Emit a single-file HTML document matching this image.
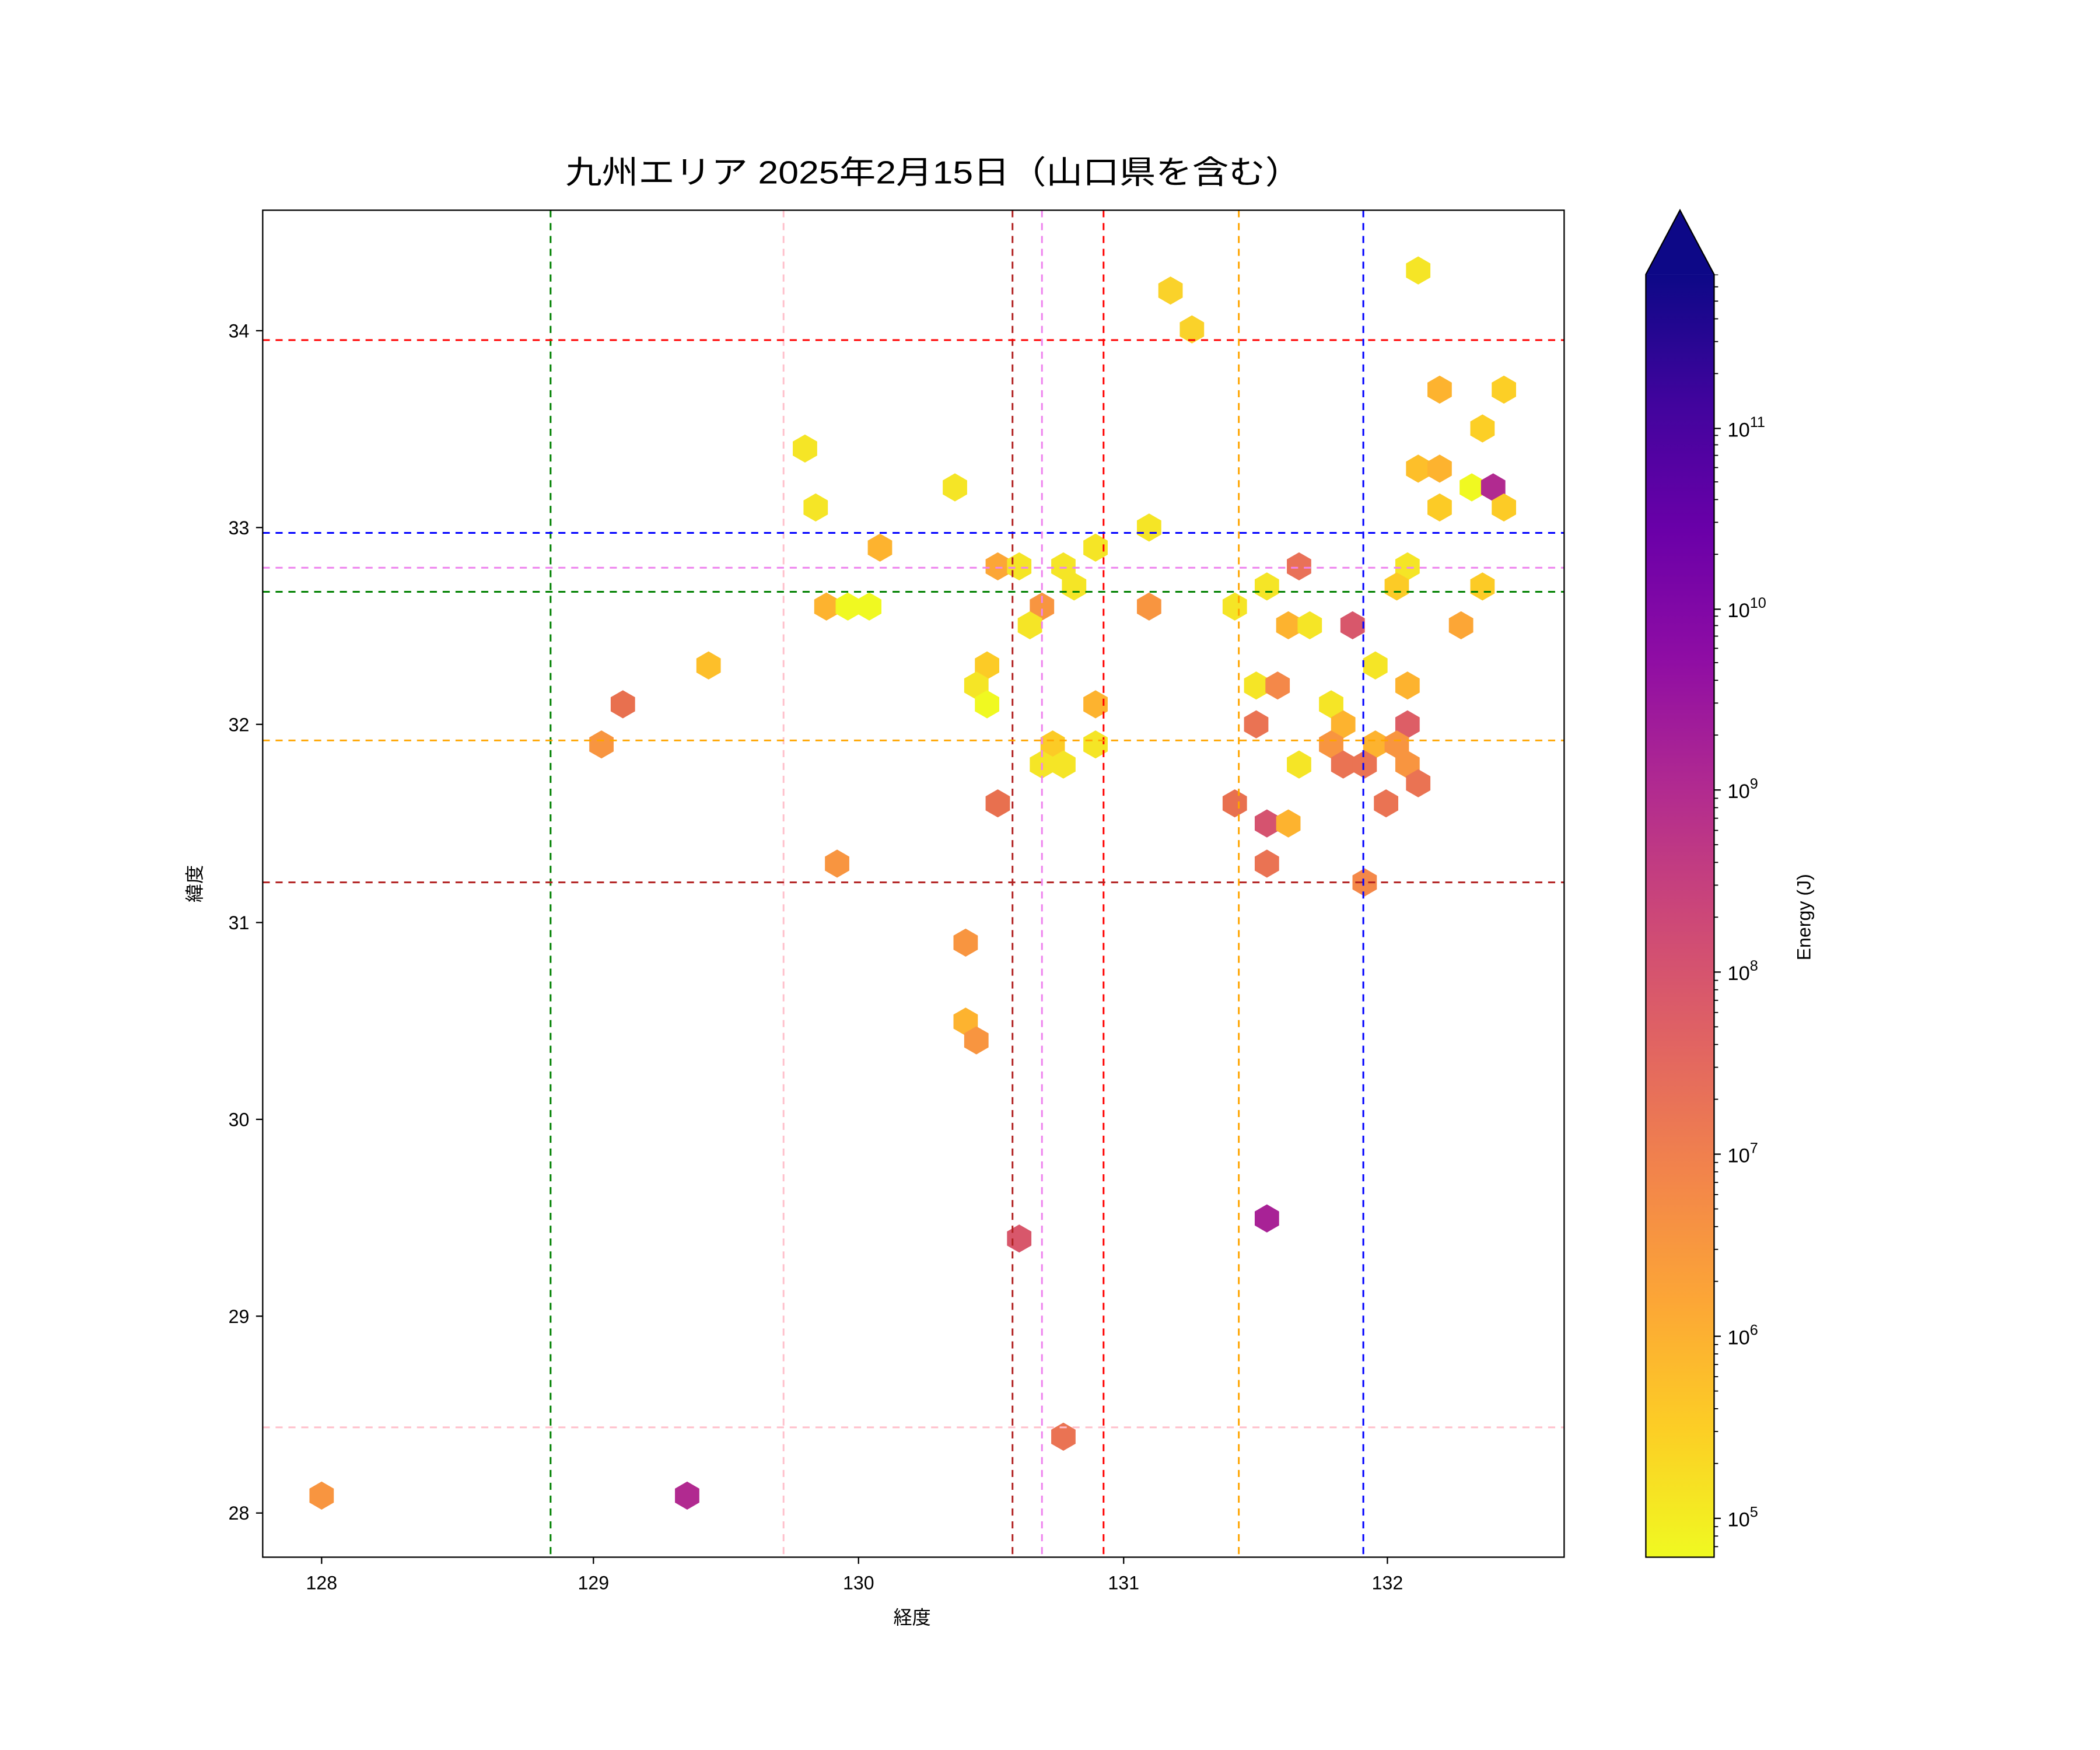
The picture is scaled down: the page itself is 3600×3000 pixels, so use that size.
<!DOCTYPE html>
<html><head><meta charset="utf-8"><style>
html,body{margin:0;padding:0;background:#fff}
svg{display:block}
text{font-family:"Liberation Sans","Noto Sans CJK JP",sans-serif;fill:#000}
</style></head><body>
<svg width="3600" height="3000" viewBox="0 0 1568 1307" xmlns="http://www.w3.org/2000/svg">
<defs>
<path id="h" d="M0,-10.5 L9.1,-5.25 L9.1,5.25 L0,10.5 L-9.1,5.25 L-9.1,-5.25 Z"/>
<linearGradient id="pl" x1="0" y1="0" x2="0" y2="1">
<stop offset="0" stop-color="#0d0887"/><stop offset="0.1" stop-color="#41049d"/><stop offset="0.2" stop-color="#6a00a8"/><stop offset="0.3" stop-color="#8f0da4"/><stop offset="0.4" stop-color="#b12a90"/><stop offset="0.5" stop-color="#cc4778"/><stop offset="0.6" stop-color="#e16462"/><stop offset="0.7" stop-color="#f2844b"/><stop offset="0.8" stop-color="#fca636"/><stop offset="0.9" stop-color="#fcce25"/><stop offset="1" stop-color="#f0f921"/>
</linearGradient>
<g id="mt" stroke="#000" stroke-width="0.8">
<line x1="1280" x2="1283" y1="-41" y2="-41"/><line x1="1280" x2="1283" y1="-64.9" y2="-64.9"/><line x1="1280" x2="1283" y1="-81.9" y2="-81.9"/><line x1="1280" x2="1283" y1="-95.1" y2="-95.1"/><line x1="1280" x2="1283" y1="-105.8" y2="-105.8"/><line x1="1280" x2="1283" y1="-114.9" y2="-114.9"/><line x1="1280" x2="1283" y1="-122.8" y2="-122.8"/><line x1="1280" x2="1283" y1="-129.8" y2="-129.8"/>
</g>
<clipPath id="cb"><rect x="1270" y="205" width="20" height="958"/></clipPath>
<clipPath id="ax"><rect x="196" y="157" width="972" height="1006"/></clipPath>
</defs>

<text x="697" y="137" font-size="24" text-anchor="middle" textLength="550" lengthAdjust="spacingAndGlyphs">九州エリア 2025年2月15日（山口県を含む）</text>

<g>
<use href="#h" x="1059" y="202" fill="#f5e526"/>
<use href="#h" x="874" y="217" fill="#fad22a"/>
<use href="#h" x="890" y="246" fill="#fad22a"/>
<use href="#h" x="1075" y="291" fill="#fdb32f"/>
<use href="#h" x="1123" y="291" fill="#fccf26"/>
<use href="#h" x="1107" y="320" fill="#fccf26"/>
<use href="#h" x="601" y="335" fill="#f5e526"/>
<use href="#h" x="713" y="364" fill="#f5e526"/>
<use href="#h" x="609" y="379" fill="#f5e526"/>
<use href="#h" x="1059" y="350" fill="#fdbf2a"/>
<use href="#h" x="1075" y="350" fill="#fdb32f"/>
<use href="#h" x="1099" y="364" fill="#f0f921"/>
<use href="#h" x="1115" y="364" fill="#b12a90"/>
<use href="#h" x="1075" y="379" fill="#fccb26"/>
<use href="#h" x="1123" y="379" fill="#fccb26"/>
<use href="#h" x="858" y="394" fill="#f5e526"/>
<use href="#h" x="657" y="409" fill="#fdb32f"/>
<use href="#h" x="818" y="409" fill="#f5e526"/>
<use href="#h" x="745" y="423" fill="#fca636"/>
<use href="#h" x="761" y="423" fill="#f5e526"/>
<use href="#h" x="794" y="423" fill="#f5e526"/>
<use href="#h" x="802" y="438" fill="#f5e526"/>
<use href="#h" x="1051" y="423" fill="#f5e526"/>
<use href="#h" x="970" y="423" fill="#e97158"/>
<use href="#h" x="617" y="453" fill="#fdb32f"/>
<use href="#h" x="633" y="453" fill="#f0f921"/>
<use href="#h" x="649" y="453" fill="#f0f921"/>
<use href="#h" x="858" y="453" fill="#f89540"/>
<use href="#h" x="922" y="453" fill="#f5e526"/>
<use href="#h" x="778" y="453" fill="#f89540"/>
<use href="#h" x="946" y="438" fill="#f5e526"/>
<use href="#h" x="1043" y="438" fill="#fccb26"/>
<use href="#h" x="1107" y="438" fill="#fccb26"/>
<use href="#h" x="769" y="467" fill="#f5e526"/>
<use href="#h" x="962" y="467" fill="#fdb32f"/>
<use href="#h" x="978" y="467" fill="#f5e526"/>
<use href="#h" x="1010" y="467" fill="#d8576b"/>
<use href="#h" x="1091" y="467" fill="#fca636"/>
<use href="#h" x="529" y="497" fill="#fdbf2a"/>
<use href="#h" x="737" y="497" fill="#fccb26"/>
<use href="#h" x="1027" y="497" fill="#f5e526"/>
<use href="#h" x="729" y="512" fill="#f5e526"/>
<use href="#h" x="737" y="526" fill="#f0f921"/>
<use href="#h" x="938" y="512" fill="#f5e526"/>
<use href="#h" x="954" y="512" fill="#f48849"/>
<use href="#h" x="1051" y="512" fill="#fdb32f"/>
<use href="#h" x="994" y="526" fill="#f5e526"/>
<use href="#h" x="465" y="526" fill="#e8704f"/>
<use href="#h" x="818" y="526" fill="#fdb32f"/>
<use href="#h" x="938" y="541" fill="#ea7353"/>
<use href="#h" x="1003" y="541" fill="#fdb32f"/>
<use href="#h" x="1051" y="541" fill="#dd5e66"/>
<use href="#h" x="449" y="556" fill="#f89540"/>
<use href="#h" x="786" y="556" fill="#fccb26"/>
<use href="#h" x="818" y="556" fill="#f5e526"/>
<use href="#h" x="994" y="556" fill="#f89540"/>
<use href="#h" x="1027" y="556" fill="#fdb32f"/>
<use href="#h" x="1043" y="556" fill="#f89540"/>
<use href="#h" x="778" y="571" fill="#f5e526"/>
<use href="#h" x="794" y="571" fill="#f5e526"/>
<use href="#h" x="970" y="571" fill="#f5e526"/>
<use href="#h" x="1003" y="571" fill="#ea7353"/>
<use href="#h" x="1019" y="571" fill="#ea7353"/>
<use href="#h" x="1051" y="571" fill="#f89540"/>
<use href="#h" x="1059" y="585" fill="#ea7353"/>
<use href="#h" x="745" y="600" fill="#e8704f"/>
<use href="#h" x="922" y="600" fill="#e8704f"/>
<use href="#h" x="946" y="615" fill="#d5536f"/>
<use href="#h" x="962" y="615" fill="#fdb32f"/>
<use href="#h" x="1035" y="600" fill="#ea7353"/>
<use href="#h" x="625" y="645" fill="#f89540"/>
<use href="#h" x="946" y="645" fill="#ea7353"/>
<use href="#h" x="1019" y="659" fill="#f48849"/>
<use href="#h" x="721" y="704" fill="#f89540"/>
<use href="#h" x="721" y="763" fill="#fdb32f"/>
<use href="#h" x="729" y="777" fill="#f89540"/>
<use href="#h" x="946" y="910" fill="#a82296"/>
<use href="#h" x="761" y="925" fill="#d8576b"/>
<use href="#h" x="794" y="1073" fill="#ea7353"/>
<use href="#h" x="240" y="1117" fill="#f89540"/>
<use href="#h" x="513" y="1117" fill="#b12a90"/>
</g>

<g clip-path="url(#ax)" stroke-width="1.3" stroke-dasharray="5.3,4.3" fill="none">
<line x1="411" x2="411" y1="157" y2="1163" stroke="green"/>
<line x1="585" x2="585" y1="157" y2="1163" stroke="pink"/>
<line x1="756" x2="756" y1="157" y2="1163" stroke="#b22222"/>
<line x1="778" x2="778" y1="157" y2="1163" stroke="violet"/>
<line x1="824" x2="824" y1="157" y2="1163" stroke="red"/>
<line x1="925" x2="925" y1="157" y2="1163" stroke="orange"/>
<line x1="1018" x2="1018" y1="157" y2="1163" stroke="blue"/>
<line x1="196" x2="1168" y1="254" y2="254" stroke="red"/>
<line x1="196" x2="1168" y1="398" y2="398" stroke="blue"/>
<line x1="196" x2="1168" y1="424" y2="424" stroke="violet"/>
<line x1="196" x2="1168" y1="442" y2="442" stroke="green"/>
<line x1="196" x2="1168" y1="553" y2="553" stroke="orange"/>
<line x1="196" x2="1168" y1="659" y2="659" stroke="#b22222"/>
<line x1="196" x2="1168" y1="1066" y2="1066" stroke="pink"/>
</g>

<rect x="196" y="157" width="972" height="1006" fill="none" stroke="#000" stroke-width="1"/>

<g stroke="#000" stroke-width="1">
<line x1="240" x2="240" y1="1163" y2="1168"/>
<line x1="443" x2="443" y1="1163" y2="1168"/>
<line x1="641" x2="641" y1="1163" y2="1168"/>
<line x1="839" x2="839" y1="1163" y2="1168"/>
<line x1="1036" x2="1036" y1="1163" y2="1168"/>
<line x1="191" x2="196" y1="247" y2="247"/>
<line x1="191" x2="196" y1="394" y2="394"/>
<line x1="191" x2="196" y1="541" y2="541"/>
<line x1="191" x2="196" y1="689" y2="689"/>
<line x1="191" x2="196" y1="836" y2="836"/>
<line x1="191" x2="196" y1="983" y2="983"/>
<line x1="191" x2="196" y1="1130" y2="1130"/>
</g>
<g font-size="14" text-anchor="middle">
<text x="240" y="1187">128</text><text x="443" y="1187">129</text><text x="641" y="1187">130</text><text x="839" y="1187">131</text><text x="1036" y="1187">132</text>
</g>
<g font-size="14" text-anchor="end">
<text x="186" y="252">34</text><text x="186" y="399">33</text><text x="186" y="546">32</text><text x="186" y="694">31</text><text x="186" y="841">30</text><text x="186" y="988">29</text><text x="186" y="1135">28</text>
</g>
<text x="681" y="1213" font-size="14" text-anchor="middle">経度</text>
<text x="0" y="0" font-size="14" text-anchor="middle" transform="translate(150,660) rotate(-90)">緯度</text>

<rect x="1229" y="205" width="51" height="958" fill="url(#pl)"/>
<polygon points="1229,205 1254.5,157 1280,205" fill="#0d0887"/>
<polygon points="1229,1163 1229,205 1254.5,157 1280,205 1280,1163 Z" fill="none" stroke="#000" stroke-width="1"/>
<g clip-path="url(#cb)">
<use href="#mt" y="1270"/><use href="#mt" y="1134"/><use href="#mt" y="998"/><use href="#mt" y="862"/><use href="#mt" y="726"/><use href="#mt" y="590"/><use href="#mt" y="455"/><use href="#mt" y="320"/><use href="#mt" y="184"/>
</g>
<g stroke="#000" stroke-width="1">
<line x1="1280" x2="1285" y1="1134" y2="1134"/><line x1="1280" x2="1285" y1="998" y2="998"/><line x1="1280" x2="1285" y1="862" y2="862"/><line x1="1280" x2="1285" y1="726" y2="726"/><line x1="1280" x2="1285" y1="590" y2="590"/><line x1="1280" x2="1285" y1="455" y2="455"/><line x1="1280" x2="1285" y1="320" y2="320"/>
</g>
<g font-size="15">
<text x="1290" y="1140">10<tspan font-size="11" dy="-7">5</tspan></text>
<text x="1290" y="1004">10<tspan font-size="11" dy="-7">6</tspan></text>
<text x="1290" y="868">10<tspan font-size="11" dy="-7">7</tspan></text>
<text x="1290" y="732">10<tspan font-size="11" dy="-7">8</tspan></text>
<text x="1290" y="596">10<tspan font-size="11" dy="-7">9</tspan></text>
<text x="1290" y="461">10<tspan font-size="11" dy="-7">10</tspan></text>
<text x="1290" y="326">10<tspan font-size="11" dy="-7">11</tspan></text>
</g>
<text x="0" y="0" font-size="14" text-anchor="middle" transform="translate(1352,685) rotate(-90)">Energy (J)</text>
</svg>
</body></html>
